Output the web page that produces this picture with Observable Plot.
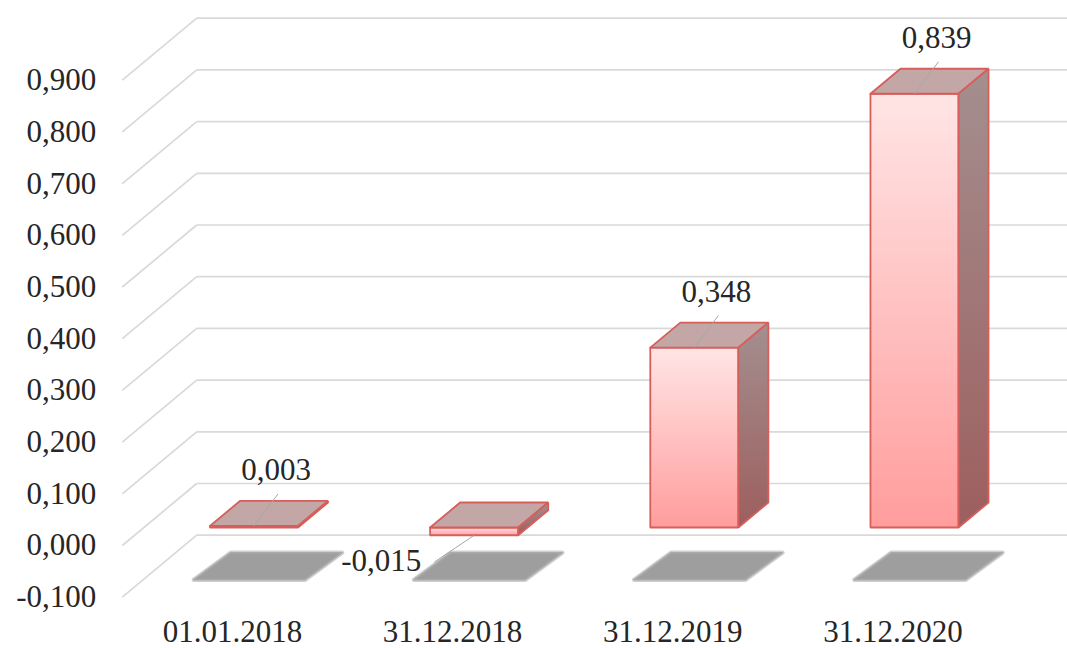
<!DOCTYPE html>
<html><head><meta charset="utf-8">
<script src="https://cdn.jsdelivr.net/npm/d3@7"></script>
<script src="https://cdn.jsdelivr.net/npm/@observablehq/plot@0.6"></script>
<style>body{margin:0;background:#fff} svg{display:block}</style>
</head><body><div id="chart"></div>
<script>
const categories = ["01.01.2018", "31.12.2018", "31.12.2019", "31.12.2020"];
const values = [0.003, -0.015, 0.348, 0.839];
const valueLabels = ["0,003", "-0,015", "0,348", "0,839"];
const yTickValues = [-0.1, 0, 0.1, 0.2, 0.3, 0.4, 0.5, 0.6, 0.7, 0.8, 0.9];
const yTickLabels = ["-0,100", "0,000", "0,100", "0,200", "0,300", "0,400", "0,500", "0,600", "0,700", "0,800", "0,900"];

const W = 1067, H = 648;
const xDomain = [0, 3], xRange = [253.5, 914];
const yDomain = [0, 1], yRange = [527, 10];
const pxX = (xRange[1] - xRange[0]) / (xDomain[1] - xDomain[0]);
const pxY = (yRange[0] - yRange[1]) / (yDomain[1] - yDomain[0]);
const DEPTH = [30, 25];               // px shift per depth unit (right, up)
const P = (x, y, z = 0) => ({x: x + z * DEPTH[0] / pxX, y: y + z * DEPTH[1] / pxY});
const off = (p, dxPx, dyPx) => ({x: p.x + dxPx / pxX, y: p.y - dyPx / pxY});
const zFront = -0.72, zBack = 1.76, half = 0.2, wallL = -0.5, wallR = 3.6, floorV = -0.1;
const FONT = "'Liberation Serif', 'Times New Roman', serif";

// wall grid lines
const wall = [];
yTickValues.forEach(v => {
  const a = P(wallL, v, zBack), b = P(wallR, v, zBack), f = P(wallL, v, zFront);
  wall.push({x1: a.x, y1: a.y, x2: b.x, y2: b.y});
  wall.push({x1: f.x, y1: f.y, x2: a.x, y2: a.y});
});

// bar faces and floor shadows
const faces = [];
const shadows = [];
values.forEach((v, i) => {
  const top = Math.max(v, 0), bot = Math.min(v, 0), xl = i - half, xr = i + half;
  const add = (arr, kind, pts) => pts.concat([pts[0]]).forEach(p => arr.push({key: kind + i, kind, x: p.x, y: p.y}));
  add(faces, "front", [P(xl, top, 0), P(xr, top, 0), P(xr, bot, 0), P(xl, bot, 0)]);
  add(faces, "top", [P(xl, top, 0), P(xr, top, 0), P(xr, top, 1), P(xl, top, 1)]);
  add(faces, "side", [P(xr, top, 0), P(xr, top, 1), P(xr, bot, 1), P(xr, bot, 0)]);
  add(shadows, "shadow", [P(xl - 0.07, floorV, -0.02), P(xr + 0.035, floorV, -0.02), P(xr + 0.055, floorV, 1.06), P(xl - 0.05, floorV, 1.06)]);
});

// value labels with leader lines
const labels = values.map((v, i) => {
  const anchor = P(i, v, 0);
  const t = v >= 0 ? off(anchor, 22, -56) : off(anchor, -93, 26);
  const s = v >= 0 ? off(anchor, 24, -32) : off(anchor, -40, 27);
  return {text: valueLabels[i], tx: t.x, ty: t.y, x1: s.x, y1: s.y, x2: anchor.x, y2: anchor.y};
});

const yTicks = yTickValues.map((v, i) => ({...P(wallL, v, zFront), text: yTickLabels[i]}));
const xTicks = categories.map((c, i) => ({...P(i, floorV, zFront), text: c}));

const chart = Plot.plot({
  width: W, height: H, margin: 0,
  x: {type: "linear", domain: xDomain, range: xRange, axis: null},
  y: {type: "linear", domain: yDomain, range: yRange, axis: null},
  style: {background: "#fff", fontFamily: FONT},
  marks: [
    Plot.link(wall, {x1: "x1", y1: "y1", x2: "x2", y2: "y2", stroke: "#d9d9d9", strokeWidth: 1.7}),
    // soft shadow edge, then shadow core
    Plot.line(shadows, {x: "x", y: "y", z: "key", fill: "none", stroke: "#cfcfcf", strokeWidth: 4.5, strokeLinejoin: "round"}),
    Plot.line(shadows, {x: "x", y: "y", z: "key", fill: "#9e9e9e", stroke: "#aaaaaa", strokeWidth: 1.6, strokeLinejoin: "round"}),
    Plot.line(faces.filter(d => d.kind === "front"), {x: "x", y: "y", z: "key", fill: "url(#gFront)", stroke: "#d65f5c", strokeWidth: 1.8, strokeLinejoin: "miter"}),
    Plot.line(faces.filter(d => d.kind === "top"), {x: "x", y: "y", z: "key", fill: "#c3a6a6", stroke: "#d65f5c", strokeWidth: 1.8, strokeLinejoin: "miter"}),
    Plot.line(faces.filter(d => d.kind === "side"), {x: "x", y: "y", z: "key", fill: "url(#gSide)", stroke: "#d65f5c", strokeWidth: 1.8, strokeLinejoin: "miter"}),
    Plot.link(labels, {x1: "x1", y1: "y1", x2: "x2", y2: "y2", stroke: "#a6a6a6", strokeWidth: 1}),
    Plot.text(labels, {x: "tx", y: "ty", text: "text", fontSize: 31, fill: "#262626", fontFamily: FONT}),
    Plot.text(yTicks, {x: "x", y: "y", text: "text", dx: -26, textAnchor: "end", fontSize: 31, fill: "#262626", fontFamily: FONT}),
    Plot.text(xTicks, {x: "x", y: "y", text: "text", dy: 35, fontSize: 31, fill: "#262626", fontFamily: FONT})
  ]
});
document.getElementById("chart").appendChild(chart);

const svg = d3.select(chart);
const defs = svg.insert("defs", ":first-child");
const gf = defs.append("linearGradient").attr("id", "gFront").attr("x1", 0).attr("y1", 0).attr("x2", 0).attr("y2", 1);
gf.append("stop").attr("offset", "0%").attr("stop-color", "#ffe5e5");
gf.append("stop").attr("offset", "100%").attr("stop-color", "#ff9d9d");
const gs = defs.append("linearGradient").attr("id", "gSide").attr("x1", 0).attr("y1", 0).attr("x2", 0).attr("y2", 1);
gs.append("stop").attr("offset", "0%").attr("stop-color", "#a48f8f");
gs.append("stop").attr("offset", "100%").attr("stop-color", "#9d5e5e");
</script>
</body></html>
